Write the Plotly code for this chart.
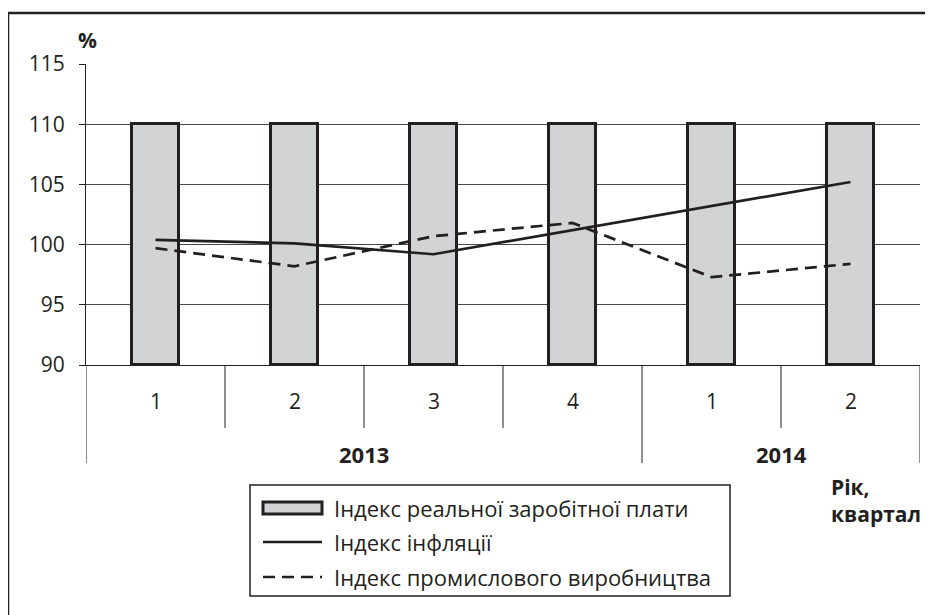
import plotly.graph_objects as go

quarters = ["1", "2", "3", "4", "1", "2"]
years = ["2013", "2014"]
year_spans = [(0, 3), (4, 5)]
wage_index = [110, 110, 110, 110, 110, 110]
inflation_index = [100.4, 100.1, 99.2, 101.2, 103.2, 105.2]
industry_index = [99.7, 98.2, 100.7, 101.8, 97.3, 98.4]
series_names = ["Індекс реальної заробітної плати", "Індекс інфляції", "Індекс промислового виробництва"]
y_ticks = [90, 95, 100, 105, 110, 115]

# page body has an 8px margin; work in screen pixels and shift
OFF = 8
W, H = 933 - OFF, 615 - OFF
L, R, T, B = 86 - OFF, 13, 64 - OFF, 250
PW = W - L - R
PH = H - T - B
INK = "#231f20"
FONT = "Open Sans, Noto Sans, DejaVu Sans, sans-serif"
BASE = 90
DASH = "12px,7px"

def px(x):
    return (x - OFF - L) / PW

def py(y):
    return (H - B - (y - OFF)) / PH

xs = list(range(len(quarters)))

fig = go.Figure()
fig.add_trace(go.Bar(
    x=xs, y=[v - BASE for v in wage_index], base=BASE, width=0.335,
    marker=dict(color="#d1d3d4", line=dict(color=INK, width=3)),
    name=series_names[0], showlegend=False,
))
fig.add_trace(go.Scatter(
    x=xs, y=inflation_index, mode="lines",
    line=dict(color=INK, width=2.7), name=series_names[1], showlegend=False,
))
fig.add_trace(go.Scatter(
    x=xs, y=industry_index, mode="lines",
    line=dict(color=INK, width=2.7, dash=DASH), name=series_names[2], showlegend=False,
))

shapes = []
annotations = []

# category dividers below axis
n = len(quarters)
year_bounds = set([-0.5] + [e + 0.5 for s, e in year_spans])
for i in range(n + 1):
    xb = i - 0.5
    long = xb in year_bounds
    shapes.append(dict(type="line", xref="x", yref="paper", x0=xb, x1=xb,
                       y0=0, y1=py(463) if long else py(428),
                       line=dict(color=INK, width=1)))

for i, q in enumerate(quarters):
    annotations.append(dict(x=i, y=py(401), xref="x", yref="paper", text=q,
                            showarrow=False, font=dict(family=FONT, size=21, color=INK),
                            xanchor="center", yanchor="middle"))
for yr, (s, e) in zip(years, year_spans):
    annotations.append(dict(x=(s + e) / 2, y=py(454), xref="x", yref="paper",
                            text="<b>%s</b>" % yr, showarrow=False,
                            font=dict(family=FONT, size=22, color=INK),
                            xanchor="center", yanchor="middle"))

annotations.append(dict(x=px(76), y=py(40), xref="paper", yref="paper", text="<b>%</b>",
                        showarrow=False, font=dict(family=FONT, size=21, color=INK),
                        xanchor="left", yanchor="middle"))
annotations.append(dict(x=px(829), y=py(500), xref="paper", yref="paper",
                        text="<b>Рік,<br>квартал</b>", showarrow=False, align="left",
                        font=dict(family=FONT, size=21, color=INK),
                        xanchor="left", yanchor="middle"))

# outer frame (left and top edges)
shapes.append(dict(type="line", xref="paper", yref="paper", x0=px(8), x1=px(8),
                   y0=py(13), y1=py(640), line=dict(color=INK, width=2.5)))
shapes.append(dict(type="line", xref="paper", yref="paper", x0=px(8), x1=px(960),
                   y0=py(13), y1=py(13), line=dict(color=INK, width=2.5)))

# manual legend
shapes.append(dict(type="rect", xref="paper", yref="paper", x0=px(250), x1=px(730),
                   y0=py(485), y1=py(596), line=dict(color=INK, width=1.5), fillcolor="white"))
shapes.append(dict(type="rect", xref="paper", yref="paper", x0=px(263), x1=px(322),
                   y0=py(502), y1=py(514), line=dict(color=INK, width=3), fillcolor="#d1d3d4"))
shapes.append(dict(type="line", xref="paper", yref="paper", x0=px(263), x1=px(322),
                   y0=py(542), y1=py(542), line=dict(color=INK, width=2.5)))
shapes.append(dict(type="line", xref="paper", yref="paper", x0=px(263), x1=px(322),
                   y0=py(577), y1=py(577), line=dict(color=INK, width=2.5, dash=DASH)))
for name, yc in zip(series_names, [508, 542, 577]):
    annotations.append(dict(x=px(332), y=py(yc), xref="paper", yref="paper", text=name,
                            showarrow=False, font=dict(family=FONT, size=22, color=INK),
                            xanchor="left", yanchor="middle"))

fig.update_layout(
    width=W, height=H,
    margin=dict(l=L, r=R, t=T, b=B, autoexpand=False),
    paper_bgcolor="white", plot_bgcolor="white",
    showlegend=False,
    shapes=shapes, annotations=annotations,
    xaxis=dict(range=[-0.5, n - 0.5], showticklabels=False, ticks="", showgrid=False,
               zeroline=False, showline=True, linecolor=INK, linewidth=1, fixedrange=True),
    yaxis=dict(range=[90, 115], tickvals=y_ticks, ticktext=[str(v) for v in y_ticks],
               showgrid=True, gridcolor="#4a4a4a", gridwidth=1.3, zeroline=False,
               showline=True, linecolor=INK, linewidth=1,
               ticks="outside", ticklen=6, tickcolor=INK, ticklabelstandoff=10,
               tickfont=dict(family=FONT, size=21, color=INK), fixedrange=True),
    bargap=0,
)

fig.write_html("out.html")
